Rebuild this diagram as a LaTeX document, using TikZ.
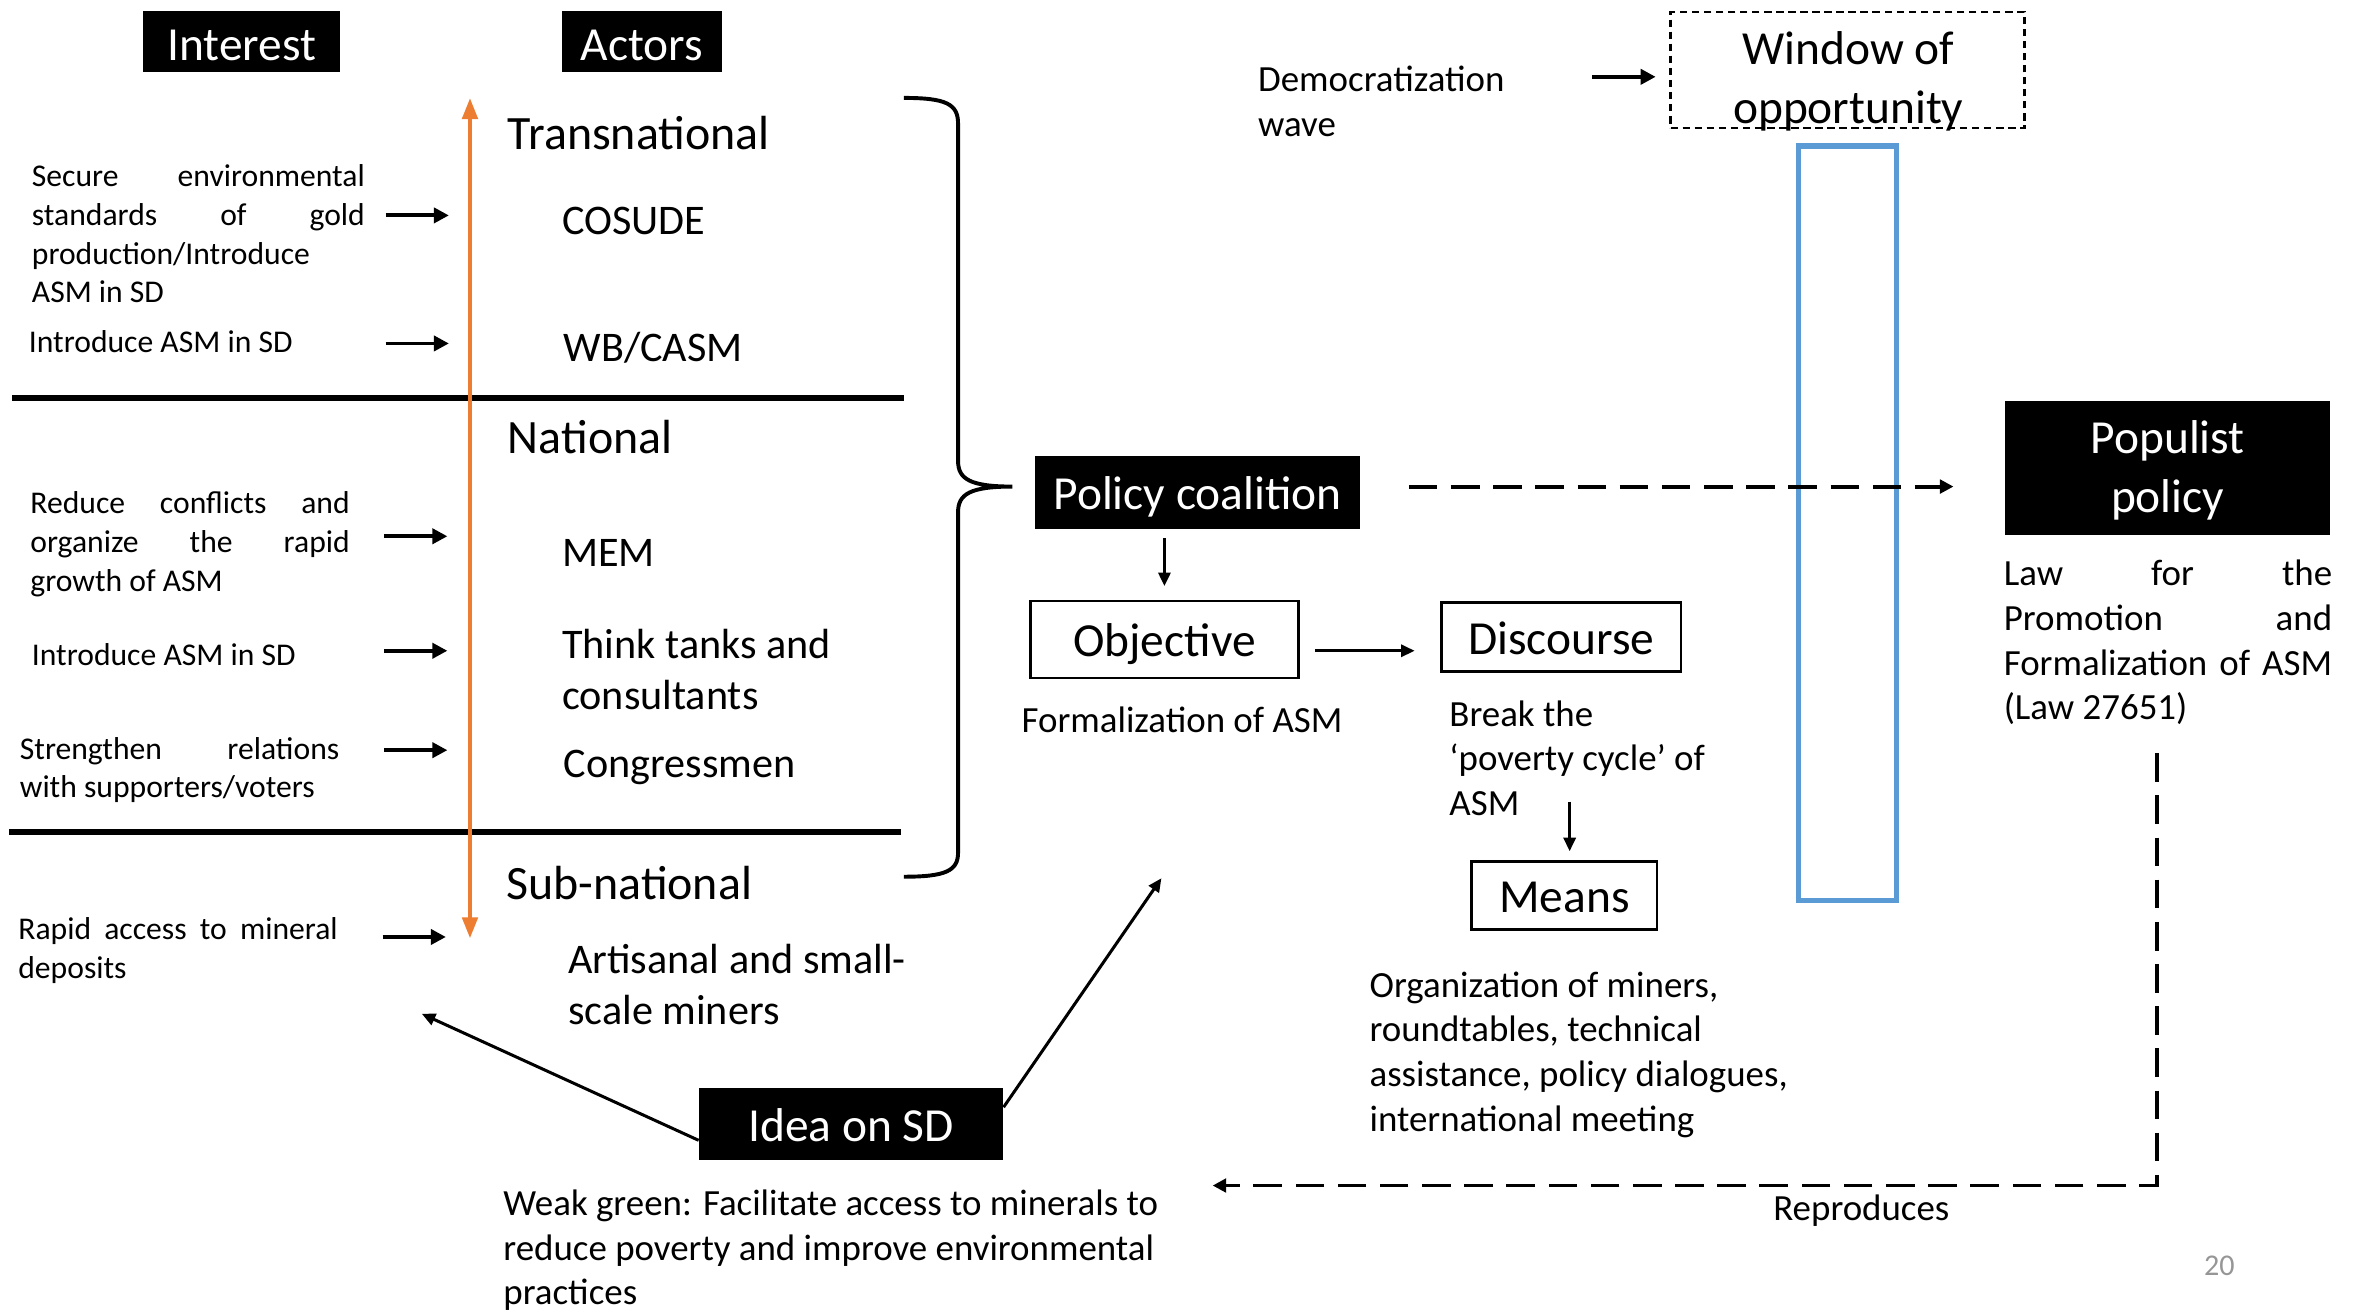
\documentclass[tikz,border=0pt]{standalone}
\usepackage{fontspec}
\setmainfont{Carlito}
\usetikzlibrary{arrows.meta}
\definecolor{orangeL}{RGB}{237,125,49}
\definecolor{blueL}{RGB}{91,155,213}
\definecolor{grayL}{RGB}{150,150,150}
\newcommand\lns[1]{\begin{tabular}[t]{@{}l@{}}#1\end{tabular}}
\newcommand\jst[2]{\makebox[#1pt][s]{#2}}
\begin{document}
\begin{tikzpicture}[x=1pt,y=-1pt,
  fL/.style={font=\fontsize{21}{25.7}\selectfont, inner sep=0, anchor=base west},
  fM/.style={font=\fontsize{24.5}{29.6}\selectfont, inner sep=0, anchor=base west},
  fA/.style={font=\fontsize{28}{34}\selectfont, inner sep=0, anchor=base west},
  fB/.style={font=\fontsize{31.8}{39}\selectfont, inner sep=0, anchor=base west},
  blackbox/.style={fill=black, text=white, inner sep=0, text height=23pt, text depth=0pt, font=\fontsize{31.5}{39}\selectfont},
  whitebox/.style={draw=black, line width=1.8pt, fill=white, inner sep=0, text height=23pt, text depth=0pt, font=\fontsize{31.5}{39}\selectfont},
  arrL/.style={line width=2.6pt, -{Triangle[length=10pt,width=10pt]}},
  arrM/.style={line width=2pt, -{Triangle[length=9pt,width=8pt]}},
  dsh/.style={line width=2.6pt, dash pattern=on 19pt off 9pt},
  sep/.style={line width=4pt}
]
\useasboundingbox (0,0) rectangle (1568,870);

% headers
\node[blackbox, text height=25pt, minimum width=131pt, minimum height=41pt] (interest) at (160.5,27.5) {Interest};
\node[blackbox, text height=25pt, minimum width=106pt, minimum height=41pt] (actors) at (426,27.5) {Actors};

% separators
\coordinate (s1a) at (8,264); \coordinate (s1b) at (600,264);
\coordinate (s2a) at (6,552); \coordinate (s2b) at (598,552);
\draw[sep] (s1a) -- (s1b);
\draw[sep] (s2a) -- (s2b);

% orange double arrow
\coordinate (otop) at (312,65); \coordinate (obot) at (312,623);
\draw[orangeL, line width=3pt, {Triangle[length=14pt,width=10pt]}-{Triangle[length=14pt,width=10pt]}] (obot) -- (otop);

% left interest texts
\node[fL] (t1) at (21,124) {\lns{\jst{221}{Secure environmental}\\\jst{221}{standards of gold}\\production/Introduce\\ASM in SD}};
\node[fL] (t2) at (19,234) {Introduce ASM in SD};
\node[fL] (t3) at (20,341) {\lns{\jst{212}{Reduce conflicts and}\\\jst{212}{organize the rapid}\\growth of ASM}};
\node[fL] (t4) at (21,442) {Introduce ASM in SD};
\node[fL] (t5) at (13,504) {\lns{\jst{212}{Strengthen relations}\\with supporters/voters}};
\node[fL] (t6) at (12,624) {\lns{\jst{212}{Rapid access to mineral}\\deposits}};

\foreach \i/\xa/\xb/\yy in {1/256/298/143, 2/256/298/228, 3/255/297/356, 4/255/297/432, 5/255/297/498, 6/254/296/622}{
  \coordinate (la\i) at (\xa,\yy);
  \coordinate (lb\i) at (\xb,\yy);
  \draw[arrL] (la\i) -- (lb\i);
}

% actors texts
\node[fB] (trans) at (337,99) {Transnational};
\node[fA] (cosude) at (373,156) {COSUDE};
\node[fA] (wb) at (374,240) {WB/CASM};
\node[fB] (nat) at (337,301) {National};
\node[fA] (mem) at (373,376) {MEM};
\node[fA] (think) at (373,437) {\lns{Think tanks and\\consultants}};
\node[fA] (congress) at (374,516) {Congressmen};
\node[fB] (subnat) at (336,597) {Sub-national};
\node[fA] (asm) at (377,646) {\lns{Artisanal and small-\\scale miners}};

% brace
\coordinate (br1) at (600,65); \coordinate (brtip) at (672,323); \coordinate (br2) at (600,582);
\draw[line width=2.6pt] (br1) .. controls (628,65) and (636,69) .. (636,82) -- (636,306)
  .. controls (636,318) and (644,323) .. (brtip)
  .. controls (644,323) and (636,328) .. (636,340) -- (636,566)
  .. controls (636,578) and (628,582) .. (br2);

% policy coalition and chain
\node[blackbox, minimum width=216pt, minimum height=48pt] (pc) at (795,327) {Policy coalition};
\node[whitebox, minimum width=178pt, minimum height=51pt] (obj) at (773,424.5) {Objective};
\node[fM] (objt) at (678,486) {Formalization of ASM};
\node[whitebox, minimum width=159pt, minimum height=46pt] (disc) at (1036.5,423) {Discourse};
\node[fM] (disct) at (962,482) {\lns{Break the\\‘poverty cycle’ of\\ASM}};
\node[whitebox, minimum width=123pt, minimum height=45pt] (means) at (1038.5,594.5) {Means};
\node[fM] (meanst) at (909,662) {\lns{Organization of miners,\\roundtables, technical\\assistance, policy dialogues,\\international meeting}};

\coordinate (o1) at (obj.north |- pc.south);
\draw[arrM, shorten <=6pt, shorten >=9pt] (o1) -- (obj.north);
\draw[arrM] ([xshift=10pt,yshift=-7.5pt]obj.east) -- ([xshift=-17pt,yshift=-9pt]disc.west);
\draw[arrM] ([xshift=3.5pt,yshift=39pt]means.north) -- ([xshift=3.5pt,yshift=6pt]means.north);

% democratization / window
\node[fM] (demo) at (835,61) {\lns{Democratization\\wave}};
\node[draw=black, line width=1.8pt, dash pattern=on 5pt off 3pt, minimum width=235pt, minimum height=77pt, inner sep=0] (window) at (1226.5,46.5) {};
\node[font=\fontsize{31.5}{39}\selectfont, inner sep=0, anchor=base] (wtext) at (1227,43) {\begin{tabular}[t]{@{}c@{}}Window of\\opportunity\end{tabular}};
\draw[arrL] ([xshift=-51pt,yshift=-4.5pt]window.west) -- ([xshift=-9pt,yshift=-4.5pt]window.west);

% blue rectangle
\node[draw=blueL, line width=3.5pt, minimum width=65pt, minimum height=501pt, inner sep=0] (blue) at (1226.5,347.5) {};

% populist policy
\node[fill=black, minimum width=216pt, minimum height=89pt, inner sep=0] (pop) at (1439,310.5) {};
\node[font=\fontsize{31.5}{39}\selectfont, text=white, inner sep=0, anchor=base] (poptext) at (1439,301) {\begin{tabular}[t]{@{}c@{}}Populist\\policy\end{tabular}};
\node[fM] (law) at (1330,389) {\lns{\jst{218}{Law for the}\\\jst{218}{Promotion and}\\\jst{218}{Formalization of ASM}\\(Law 27651)}};

\coordinate (d1) at ([xshift=32pt,yshift=4pt]pc.east);
\coordinate (d2) at ([xshift=-34pt]pop.west);
\draw[dsh, -{Triangle[length=9pt,width=9pt]}] (d1) -- (d1 -| d2);

% reproduces loop
\coordinate (r1) at (1432,500);
\coordinate (r2) at (1432,787);
\coordinate (r3) at (805,787);
\draw[dsh, -{Triangle[length=9pt,width=9pt]}] (r1) -- (r2) -- (r3);
\node[fM] (repro) at (1177,810) {Reproduces};

% idea on SD
\node[blackbox, minimum width=202pt, minimum height=48pt] (idea) at (565,746) {Idea on SD};
\node[fM] (ideat) at (334,807) {\lns{Weak green: Facilitate access to minerals to\\reduce poverty and improve environmental\\practices}};
\coordinate (ideaL) at (280,673);
\coordinate (ideaU) at (771,583);
\draw[arrM] ([yshift=-11pt]idea.west) -- (ideaL);
\draw[arrM] ([yshift=11pt]idea.east) -- (ideaU);

% page number
\node[font=\fontsize{20}{24}\selectfont, text=grayL, inner sep=0, anchor=base west] (pnum) at (1463,847) {20};
\end{tikzpicture}
\end{document}
